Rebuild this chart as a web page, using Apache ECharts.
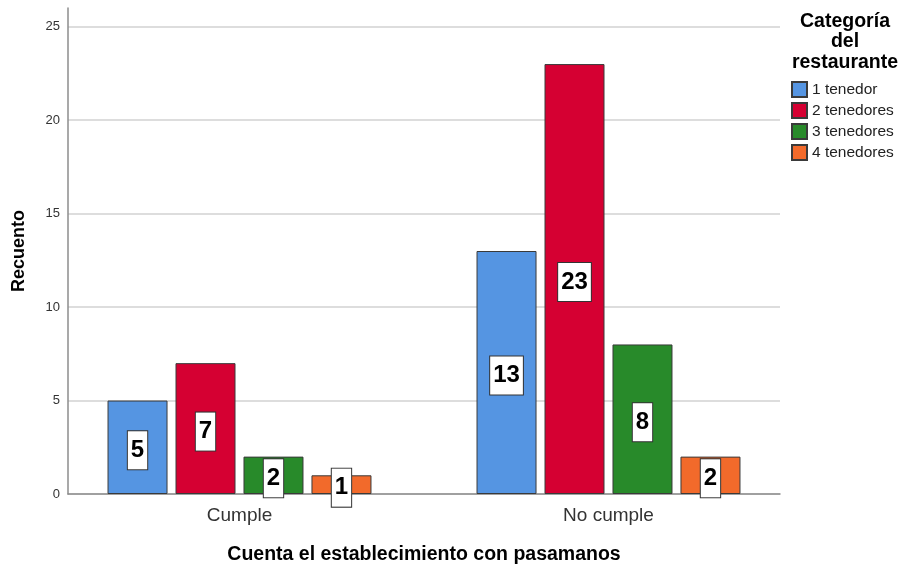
<!DOCTYPE html>
<html>
<head>
<meta charset="utf-8">
<script src="https://cdn.jsdelivr.net/npm/echarts@6/dist/echarts.min.js"></script>
<style>
  html, body { margin: 0; padding: 0; background: #fff; }
  #chart { width: 898px; height: 564px; }
</style>
</head>
<body>
<div id="chart"></div>
<script>
// Counts of establishments with handrails, by restaurant category
const categories = ['Cumple', 'No cumple'];
const seriesNames = ['1 tenedor', '2 tenedores', '3 tenedores', '4 tenedores'];
const tenedor1 = [5, 13];
const tenedor2 = [7, 23];
const tenedor3 = [2, 8];
const tenedor4 = [1, 2];
const yTicks = [0, 5, 10, 15, 20, 25];

const values = [tenedor1, tenedor2, tenedor3, tenedor4];
const colors = ['#5595E2', '#D50032', '#288A2A', '#F26A2B'];
const FONT = 'Arial, "Liberation Sans", sans-serif';

const chart = echarts.init(document.getElementById('chart'), null, { renderer: 'canvas' });

const series = values.map((vals, i) => ({
  name: seriesNames[i],
  type: 'bar',
  xAxisIndex: 1,
  yAxisIndex: 1,
  data: vals,
  barWidth: 60,
  barGap: '13.3%',
  itemStyle: { color: colors[i], borderColor: '#3a3a3a', borderWidth: 1 },
  label: {
    show: true,
    position: 'inside',
    offset: [0, 3],
    color: '#000',
    fontFamily: FONT,
    fontWeight: 'bold',
    fontSize: 24,
    lineHeight: 24,
    backgroundColor: '#fff',
    borderColor: '#333',
    borderWidth: 1,
    padding: [8, 3, 6, 3]
  }
}));

chart.setOption({
  animation: false,
  backgroundColor: '#fff',
  title: {
    text: 'Categoría\ndel\nrestaurante',
    left: 840,
    top: 6,
    textAlign: 'center',
    textStyle: { fontFamily: FONT, fontWeight: 'bold', fontSize: 19.5, lineHeight: 20.5, color: '#000' }
  },
  legend: {
    data: seriesNames,
    orient: 'vertical',
    left: 786,
    top: 76,
    icon: 'rect',
    itemWidth: 15,
    itemHeight: 15,
    itemGap: 4,
    textStyle: { fontFamily: FONT, fontSize: 15.5, lineHeight: 15, color: '#222' }
  },
  grid: [
    // axis frame and gridlines
    { left: 68, right: 118, top: 8, bottom: 70, outerBoundsMode: 'none' },
    // clustered bars, groups centred under their labels
    { left: 55, right: 105, top: 8, bottom: 70, outerBoundsMode: 'none' }
  ],
  xAxis: [
    {
      gridIndex: 0,
      type: 'value',
      min: 0,
      max: 1,
      axisLine: { show: true, onZero: false, lineStyle: { color: '#8c8c8c', width: 1.5 } },
      axisTick: { show: false },
      axisLabel: { show: false },
      splitLine: { show: false },
      name: 'Cuenta el establecimiento con pasamanos',
      nameLocation: 'middle',
      nameGap: 51,
      nameTextStyle: { fontFamily: FONT, fontWeight: 'bold', fontSize: 19.5, color: '#000' }
    },
    {
      gridIndex: 1,
      type: 'category',
      data: categories,
      axisLine: { show: false },
      axisTick: { show: false },
      axisLabel: { fontFamily: FONT, fontSize: 19, color: '#333', margin: 12 }
    }
  ],
  yAxis: [
    {
      gridIndex: 0,
      type: 'value',
      min: 0,
      max: 26,
      interval: 5,
      axisLine: { show: true, lineStyle: { color: '#8c8c8c', width: 1.5 } },
      axisTick: { show: false },
      axisLabel: {
        showMaxLabel: false,
        fontFamily: FONT, fontSize: 13, color: '#333', margin: 8,
        formatter: v => (yTicks.indexOf(v) >= 0 ? String(v) : '')
      },
      splitLine: { show: true, showMaxLine: false, lineStyle: { color: '#d2d2d2', width: 1.5 } },
      name: 'Recuento',
      nameLocation: 'middle',
      nameGap: 40,
      nameRotate: 90,
      nameTextStyle: { fontFamily: FONT, fontWeight: 'bold', fontSize: 18, color: '#000' }
    },
    {
      gridIndex: 1,
      type: 'value',
      min: 0,
      max: 26,
      show: false,
      splitLine: { show: false }
    }
  ],
  series: series
});
</script>
</body>
</html>
